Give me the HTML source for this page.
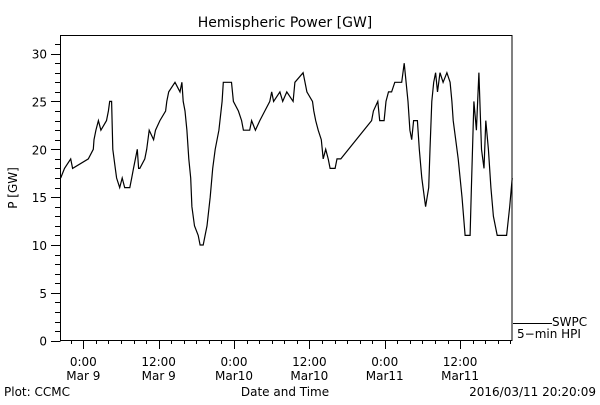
<!DOCTYPE html>
<html><head><meta charset="utf-8"><style>
body{margin:0;background:#fff}
svg text{font-family:"DejaVu Sans","Liberation Sans",sans-serif;fill:#000}
</style></head><body>
<svg id="chart" width="600" height="400" viewBox="0 0 600 400" xmlns="http://www.w3.org/2000/svg">
<text x="285" y="27" font-size="14" text-anchor="middle">Hemispheric Power [GW]</text>
<rect x="60.5" y="35.5" width="451.5" height="305" fill="none" stroke="#000" stroke-width="1"/>
<g id="yaxis"></g>
<g id="xaxis"></g>
<text transform="translate(17,188) rotate(-90)" font-size="12" text-anchor="middle">P [GW]</text>
<text x="285" y="396" font-size="12" text-anchor="middle">Date and Time</text>
<text x="4" y="396" font-size="12">Plot: CCMC</text>
<text x="596" y="396" font-size="12" text-anchor="end">2016/03/11 20:20:09</text>
<g>
<line x1="513" y1="323.5" x2="552" y2="323.5" stroke="#000"/>
<text x="552" y="326" font-size="12">SWPC</text>
<text x="517" y="338" font-size="12">5−min HPI</text>
</g>
<path id="line" fill="none" stroke="#000" stroke-width="1.2"/>
</svg>
<script>
const hours=[-3.6,-3.0,-2.0,-1.7,0.8,1.6,1.7,2.0,2.4,2.8,3.7,4.0,4.2,4.5,4.7,5.1,5.3,5.8,6.2,6.6,7.4,7.7,8.0,8.3,8.6,8.8,9.0,9.8,10.1,10.5,11.2,11.5,12.2,13.1,13.3,13.6,14.6,15.4,15.7,15.9,16.2,16.5,16.8,17.1,17.3,17.7,18.3,18.6,19.1,19.4,19.7,20.2,20.6,21.0,21.6,22.1,22.3,23.6,23.9,24.7,25.2,25.5,26.5,26.8,27.4,28.1,28.9,29.7,30.0,30.3,31.3,31.75,32.4,33.4,33.7,35.0,35.3,35.6,36.5,36.7,37.0,37.4,37.9,38.2,38.6,39.0,39.3,40.1,40.4,41.0,45.9,46.2,46.9,47.2,47.9,48.2,48.6,49.1,49.6,50.7,51.1,51.4,51.7,52.0,52.3,52.6,53.2,53.5,53.9,54.3,54.5,55.0,55.2,55.5,55.8,56.1,56.4,56.8,57.3,57.9,58.4,58.7,58.9,59.3,59.7,60.3,60.8,61.6,61.8,62.2,62.6,63.0,63.4,63.8,64.1,64.5,64.9,65.3,65.9,67.4,67.9,68.3];
const power=[17,18,19,18,19,20,21,22,23,22,23,24,25,25,20,18,17,16,17,16,16,17,18,19,20,18,18,19,20,22,21,22,23,24,25,26,27,26,27,25,24,22,19,17,14,12,11,10,10,11,12,15,18,20,22,25,27,27,25,24,23,22,22,23,22,23,24,25,26,25,26,25,26,25,27,28,27,26,25,24,23,22,21,19,20,19,18,18,19,19,23,24,25,23,23,25,26,26,27,27,29,27,25,22,21,23,23,20,17,15,14,16,20,25,27,28,26,28,27,28,27,25,23,21,19,15,11,11,16,25,22,28,20,18,23,20,16,13,11,11,14,17];
const yTicks=[0,5,10,15,20,25,30];
const xTickHours=[0,12,24,36,48,60];
const xTickLabels=[["0:00","Mar 9"],["12:00","Mar 9"],["0:00","Mar10"],["12:00","Mar10"],["0:00","Mar11"],["12:00","Mar11"]];
const NS="http://www.w3.org/2000/svg";
const X=h=>83.3+h*6.28;
const Y=v=>340.7-v*9.57;
const ya=document.getElementById('yaxis'),xa=document.getElementById('xaxis');
function ln(g,x1,y1,x2,y2){const l=document.createElementNS(NS,'line');l.setAttribute('x1',x1);l.setAttribute('y1',y1);l.setAttribute('x2',x2);l.setAttribute('y2',y2);l.setAttribute('stroke','#000');g.appendChild(l);return l;}
for(let v=0;v<=31;v++){const y=Math.round(Y(v))+0.5;const l=ln(ya,v%5===0?51:55,y,60.5,y);

}
yTicks.forEach(v=>{const t=document.createElementNS(NS,'text');t.setAttribute('x',47);t.setAttribute('y',Y(v)+5);t.setAttribute('font-size','12');t.setAttribute('text-anchor','end');t.textContent=v;


ya.appendChild(t);});
for(let h=-2;h<=68;h+=2){const x=Math.round(X(h))+0.5;const l=ln(xa,x,340.5,x,h%12===0?349:344);

}
xTickHours.forEach((h,i)=>{[0,1].forEach(k=>{const t=document.createElementNS(NS,'text');t.setAttribute('x',X(h));t.setAttribute('y',k?380:366);t.setAttribute('font-size','12');t.setAttribute('text-anchor','middle');t.textContent=xTickLabels[i][k];


xa.appendChild(t);});});
document.getElementById('line').setAttribute('d',hours.map((h,i)=>(i?'L':'M')+X(h).toFixed(1)+' '+Y(power[i]).toFixed(1)).join(' '));
</script>
</body></html>
